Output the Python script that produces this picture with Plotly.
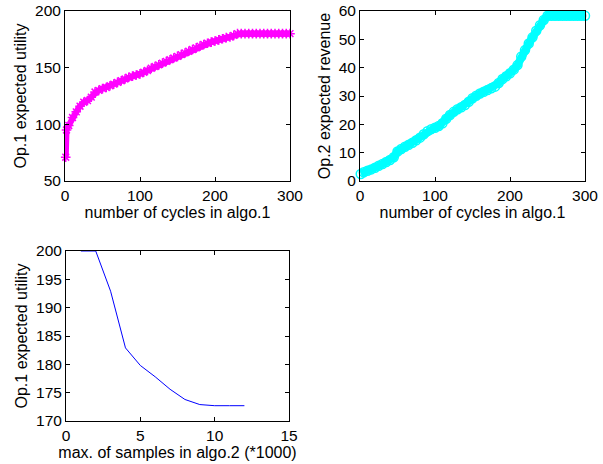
import plotly.graph_objects as go

# ---- Data: top-left (Op.1 expected utility vs cycles) ----
cycles_u = [1, 2, 5, 10, 15, 20, 25, 30, 35, 40, 45, 50, 55, 60, 65, 70, 75, 80, 85, 90,
            95, 100, 105, 110, 115, 120, 125, 130, 135, 140, 145, 150, 155, 160, 165, 170,
            175, 180, 185, 190, 195, 200, 205, 210, 215, 220, 225, 230, 235, 240, 245, 250,
            255, 260, 265, 270, 275, 280, 285, 290, 295, 300]
utility = [71, 95, 99, 106, 111, 116, 119.5, 121, 124, 128.5, 130, 131.5, 132.5, 134, 135.5,
           137, 138.5, 140, 141.5, 142.5, 143.5, 144.5, 146, 147.5, 149.5, 151, 152.5, 154,
           155.5, 157, 158.5, 160, 161.5, 163, 164.5, 166, 167.5, 169, 170.5, 171.5, 172.5,
           173.5, 174.5, 175.5, 176.5, 177, 178.5, 180, 180, 180, 180, 180, 180, 180, 180,
           180, 180, 180, 180, 180, 180, 180]

# ---- Data: top-right (Op.2 expected revenue vs cycles) ----
cycles_r = [1, 5, 10, 15, 20, 25, 30, 35, 40, 45, 50, 55, 60, 65, 70, 75, 80, 85, 90, 95,
            100, 105, 110, 115, 120, 125, 130, 135, 140, 145, 150, 155, 160, 165, 170, 175,
            180, 185, 190, 195, 200, 205, 210, 215, 220, 225, 230, 235, 240, 245, 250, 255,
            260, 265, 270, 275, 280, 285, 290, 295, 300]
revenue = [2.5, 3.1, 3.6, 4.1, 4.7, 5.4, 6.0, 6.7, 7.4, 8.4, 10.4, 11.3, 12.1, 12.8, 13.5,
           14.4, 15.3, 16.5, 17.6, 18.3, 18.8, 19.4, 20.4, 22.0, 23.3, 24.4, 25.3, 26.0,
           26.8, 28.0, 29.2, 30.1, 30.9, 31.5, 32.1, 32.7, 33.3, 34.6, 36.0, 37.0, 38.0,
           39.3, 40.9, 43.9, 46.2, 48.5, 50.7, 53.0, 55.0, 56.8, 58.3, 58.3, 58.3, 58.3,
           58.3, 58.3, 58.3, 58.3, 58.3, 58.3, 58.3]

# ---- Data: bottom-left (Op.1 expected utility vs max samples) ----
samples = [1, 2, 3, 4, 5, 6, 7, 8, 9, 10, 11, 12]
utility2 = [200, 200, 192.9, 182.9, 179.8, 177.8, 175.6, 173.8, 172.9, 172.7, 172.7, 172.7]

FONT = "Liberation Sans, Arial, Helvetica, sans-serif"

fig = go.Figure()

# top-left
fig.add_trace(go.Scatter(x=cycles_u, y=utility, mode="lines+markers",
                         line=dict(color="#FF00FF", width=6),
                         marker=dict(symbol="asterisk-open", size=8,
                                     line=dict(color="#FF00FF", width=1.5), color="#FF00FF"),
                         xaxis="x", yaxis="y", showlegend=False, cliponaxis=False))
# top-right
fig.add_trace(go.Scatter(x=cycles_r, y=revenue, mode="lines+markers",
                         line=dict(color="#00FFFF", width=8),
                         marker=dict(symbol="circle-open", size=9,
                                     line=dict(color="#00FFFF", width=1.5), color="#00FFFF"),
                         xaxis="x2", yaxis="y2", showlegend=False, cliponaxis=False))
# bottom-left
fig.add_trace(go.Scatter(x=samples, y=utility2, mode="lines",
                         line=dict(color="#0000FF", width=1),
                         xaxis="x3", yaxis="y3", showlegend=False))

def ax(domain, rng, tickvals, title, anchor, standoff):
    return dict(domain=domain, range=rng, tickvals=tickvals, anchor=anchor,
                automargin=False,
                showgrid=False, zeroline=False, showline=True, linecolor="black",
                linewidth=1, mirror="ticks", ticks="inside", ticklen=4,
                tickcolor="black", tickfont=dict(family=FONT, size=15.5, color="black"),
                title=dict(text=title, font=dict(family=FONT, size=16, color="black"),
                           standoff=standoff))

y_top = [1 - 181 / 464, 1 - 11 / 464]
y_bot = [1 - 421 / 464, 1 - 251 / 464]

fig.update_layout(
    width=603, height=464,
    margin=dict(l=0, r=0, t=0, b=0),
    paper_bgcolor="white", plot_bgcolor="white",
    xaxis=ax([65 / 603, 290 / 603], [0, 300], [0, 100, 200, 300],
             "number of cycles in algo.1", "y", 2),
    yaxis=ax(y_top, [50, 200], [50, 100, 150, 200], "Op.1 expected utility", "x", 4),
    xaxis2=ax([360 / 603, 585 / 603], [0, 300], [0, 100, 200, 300],
              "number of cycles in algo.1", "y2", 2),
    yaxis2=ax(y_top, [0, 60], [0, 10, 20, 30, 40, 50, 60], "Op.2 expected revenue", "x2", 4),
    xaxis3=ax([66 / 603, 289 / 603], [0, 15], [0, 5, 10, 15],
              "max. of samples in algo.2 (*1000)", "y3", 2),
    yaxis3=ax(y_bot, [170, 200], [170, 175, 180, 185, 190, 195, 200],
              "Op.1 expected utility", "x3", 4),
)

fig.write_html("out.html", config={"displayModeBar": False},
               post_script="document.body.style.margin='0px';document.body.style.padding='0px';")
